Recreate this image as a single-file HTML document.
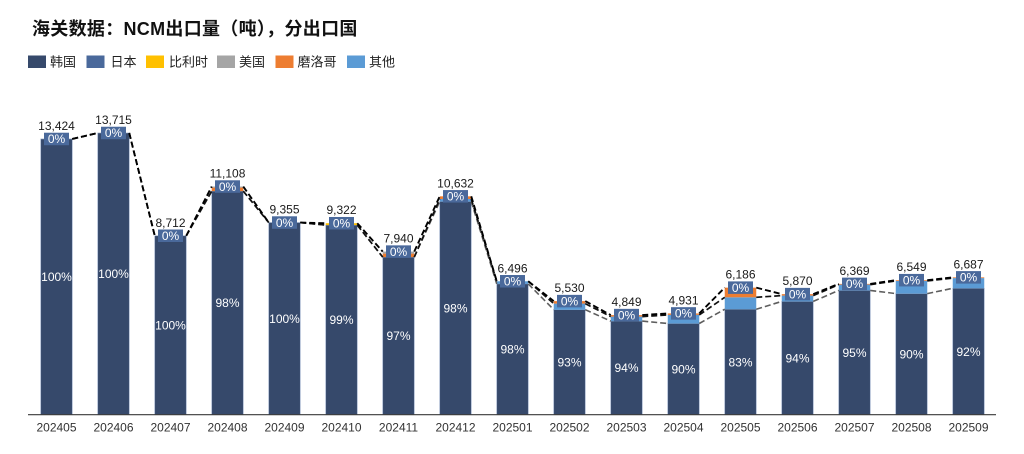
<!DOCTYPE html>
<html>
<head>
<meta charset="utf-8">
<style>
  html,body{margin:0;padding:0;background:#fff;}
  body{width:1024px;height:454px;overflow:hidden;position:relative;}
  svg{position:absolute;left:0;top:0;}
  .t{font-family:"Liberation Sans","Noto Sans CJK SC",sans-serif;}
</style>
</head>
<body>
<svg width="1024" height="454" viewBox="0 0 1024 454" xmlns="http://www.w3.org/2000/svg">
  <!-- Title -->
  <text x="32" y="35" class="t" font-size="18" font-weight="bold" fill="#111" letter-spacing="0.3">海关数据：NCM出口量（吨），分出口国</text>

  <!-- Legend -->
  <g class="t" font-size="13" fill="#222">
    <rect x="28" y="55.5" width="18" height="12.5" fill="#36496b"/>
    <text x="50" y="66.5">韩国</text>
    <rect x="86.5" y="55.5" width="18" height="12.5" fill="#4a699b"/>
    <text x="110.5" y="66.5">日本</text>
    <rect x="146" y="55.5" width="18" height="12.5" fill="#ffc000"/>
    <text x="169" y="66.5">比利时</text>
    <rect x="217" y="55.5" width="18" height="12.5" fill="#a5a5a5"/>
    <text x="239" y="66.5">美国</text>
    <rect x="275.5" y="55.5" width="18" height="12.5" fill="#ed7d31"/>
    <text x="297.5" y="66.5">磨洛哥</text>
    <rect x="347" y="55.5" width="18" height="12.5" fill="#5b9bd5"/>
    <text x="369" y="66.5">其他</text>
  </g>

  <!-- Korea bars -->
  <g fill="#36496b" stroke="#8fa3c2" stroke-width="0.6">
    <rect x="40.75" y="138.97" width="31.5" height="275.73"/>
    <rect x="97.75" y="132.99" width="31.5" height="281.71"/>
    <rect x="154.75" y="235.76" width="31.5" height="178.94"/>
    <rect x="211.75" y="191.1" width="31.5" height="223.6"/>
    <rect x="268.75" y="222.55" width="31.5" height="192.15"/>
    <rect x="325.75" y="225.1" width="31.5" height="189.6"/>
    <rect x="382.75" y="257.1" width="31.5" height="157.6"/>
    <rect x="439.75" y="201.5" width="31.5" height="213.2"/>
    <rect x="496.75" y="283.9" width="31.5" height="130.8"/>
    <rect x="553.75" y="309.7" width="31.5" height="105.0"/>
    <rect x="610.75" y="321.1" width="31.5" height="93.6"/>
    <rect x="667.75" y="323.5" width="31.5" height="91.2"/>
    <rect x="724.75" y="309.24" width="31.5" height="105.46"/>
    <rect x="781.75" y="301.4" width="31.5" height="113.3"/>
    <rect x="838.75" y="290.4" width="31.5" height="124.3"/>
    <rect x="895.75" y="293.6" width="31.5" height="121.1"/>
    <rect x="952.75" y="288.3" width="31.5" height="126.4"/>
  </g>

  <!-- Other (light blue) -->
  <g fill="#5b9bd5">
    <rect x="439.75" y="199.0" width="31.5" height="2.5"/>
    <rect x="496.75" y="281.27" width="31.5" height="2.63"/>
    <rect x="553.75" y="303.6" width="31.5" height="6.1"/>
    <rect x="610.75" y="316.6" width="31.5" height="4.5"/>
    <rect x="667.75" y="314.9" width="31.5" height="8.6"/>
    <rect x="724.75" y="297.3" width="31.5" height="11.94"/>
    <rect x="781.75" y="295.6" width="31.5" height="5.8"/>
    <rect x="838.75" y="284.6" width="31.5" height="5.8"/>
    <rect x="895.75" y="280.9" width="31.5" height="12.7"/>
    <rect x="952.75" y="278.1" width="31.5" height="10.2"/>
  </g>

  <!-- Morocco (orange) -->
  <g fill="#ed7d31">
    <rect x="211.75" y="187.6" width="31.5" height="3.5"/>
    <rect x="382.75" y="253.6" width="31.5" height="3.5"/>
    <rect x="439.75" y="196.32" width="31.5" height="2.68"/>
    <rect x="553.75" y="301.11" width="31.5" height="2.49"/>
    <rect x="610.75" y="315.1" width="31.5" height="1.5"/>
    <rect x="667.75" y="313.42" width="31.5" height="1.48"/>
    <rect x="724.75" y="287.64" width="31.5" height="9.66"/>
    <rect x="781.75" y="294.13" width="31.5" height="1.47"/>
    <rect x="838.75" y="283.88" width="31.5" height="0.72"/>
    <rect x="895.75" y="280.18" width="31.5" height="0.72"/>
    <rect x="952.75" y="277.35" width="31.5" height="0.75"/>
  </g>

  <!-- Gray (US) & Yellow (Belgium) -->
  <rect x="211.75" y="186.54" width="31.5" height="1.06" fill="#a5a5a5"/>
  <rect x="382.75" y="251.61" width="31.5" height="1.99" fill="#a5a5a5"/>
  <rect x="325.75" y="223.23" width="31.5" height="1.87" fill="#ffc000"/>

  <!-- X axis -->
  <line x1="28" y1="414.7" x2="996" y2="414.7" stroke="#3a3a3a" stroke-width="1.2"/>

  <!-- Series lines: Korea top (gray) -->
  <path fill="none" stroke="#5e5e5e" stroke-width="1.6" stroke-dasharray="6 3"
    d="M72.25,138.97L97.75,132.99 M129.25,132.99L154.75,235.76 M186.25,235.76L211.75,191.1 M243.25,191.1L268.75,222.55 M300.25,222.55L325.75,225.1 M357.25,225.1L382.75,257.1 M414.25,257.1L439.75,201.5 M471.25,201.5L496.75,283.9 M528.25,283.9L553.75,309.7 M585.25,309.7L610.75,321.1 M642.25,321.1L667.75,323.5 M699.25,323.5L724.75,309.24 M756.25,309.24L781.75,301.4 M813.25,301.4L838.75,290.4 M870.25,290.4L895.75,293.6 M927.25,293.6L952.75,288.3"/>
  <!-- Series lines: Korea+Other top (black) -->
  <path fill="none" stroke="#111" stroke-width="1.7" stroke-dasharray="6 3"
    d="M72.25,138.97L97.75,132.99 M129.25,132.99L154.75,235.76 M186.25,235.76L211.75,191.1 M243.25,191.1L268.75,222.55 M300.25,222.55L325.75,225.1 M357.25,225.1L382.75,257.1 M414.25,257.1L439.75,199.0 M471.25,199.0L496.75,281.27 M528.25,281.27L553.75,303.6 M585.25,303.6L610.75,316.6 M642.25,316.6L667.75,314.9 M699.25,314.9L724.75,297.3 M756.25,297.3L781.75,295.6 M813.25,295.6L838.75,284.6 M870.25,284.6L895.75,280.9 M927.25,280.9L952.75,278.1"/>
  <!-- Series lines: total top (black) -->
  <path fill="none" stroke="#000" stroke-width="1.9" stroke-dasharray="6 3"
    d="M72.25,138.97L97.75,132.99 M129.25,132.99L154.75,235.76 M186.25,235.76L211.75,186.54 M243.25,186.54L268.75,222.55 M300.25,222.55L325.75,223.23 M357.25,223.23L382.75,251.61 M414.25,251.61L439.75,196.32 M471.25,196.32L496.75,281.27 M528.25,281.27L553.75,301.11 M585.25,301.11L610.75,315.1 M642.25,315.1L667.75,313.42 M699.25,313.42L724.75,287.64 M756.25,287.64L781.75,294.13 M813.25,294.13L838.75,283.88 M870.25,283.88L895.75,280.18 M927.25,280.18L952.75,277.35"/>

  <!-- 0% boxes -->
  <g fill="#4a699b">
    <rect x="44" y="132.72" width="25" height="12.5"/>
    <rect x="101" y="126.74" width="25" height="12.5"/>
    <rect x="158" y="229.51" width="25" height="12.5"/>
    <rect x="215" y="180.29" width="25" height="12.5"/>
    <rect x="272" y="216.3" width="25" height="12.5"/>
    <rect x="329" y="216.98" width="25" height="12.5"/>
    <rect x="386" y="245.36" width="25" height="12.5"/>
    <rect x="443" y="190.07" width="25" height="12.5"/>
    <rect x="500" y="275.02" width="25" height="12.5"/>
    <rect x="557" y="294.86" width="25" height="12.5"/>
    <rect x="614" y="308.85" width="25" height="12.5"/>
    <rect x="671" y="307.17" width="25" height="12.5"/>
    <rect x="728" y="281.39" width="25" height="12.5"/>
    <rect x="785" y="287.88" width="25" height="12.5"/>
    <rect x="842" y="277.63" width="25" height="12.5"/>
    <rect x="899" y="273.93" width="25" height="12.5"/>
    <rect x="956" y="271.1" width="25" height="12.5"/>
  </g>
  <g class="t" font-size="12" fill="#fff" text-anchor="middle">
    <text x="56.5" y="143.2">0%</text>
    <text x="113.5" y="137.2">0%</text>
    <text x="170.5" y="240.0">0%</text>
    <text x="227.5" y="190.8">0%</text>
    <text x="284.5" y="226.8">0%</text>
    <text x="341.5" y="227.5">0%</text>
    <text x="398.5" y="255.9">0%</text>
    <text x="455.5" y="200.6">0%</text>
    <text x="512.5" y="285.5">0%</text>
    <text x="569.5" y="305.4">0%</text>
    <text x="626.5" y="319.3">0%</text>
    <text x="683.5" y="317.7">0%</text>
    <text x="740.5" y="291.9">0%</text>
    <text x="797.5" y="298.4">0%</text>
    <text x="854.5" y="288.1">0%</text>
    <text x="911.5" y="284.4">0%</text>
    <text x="968.5" y="281.6">0%</text>
  </g>

  <!-- Total labels -->
  <g class="t" font-size="12" fill="#1a1a1a" text-anchor="middle">
    <text x="56.5" y="130.0">13,424</text>
    <text x="113.5" y="124.0">13,715</text>
    <text x="170.5" y="226.8">8,712</text>
    <text x="227.5" y="177.5">11,108</text>
    <text x="284.5" y="213.6">9,355</text>
    <text x="341.5" y="214.2">9,322</text>
    <text x="398.5" y="242.6">7,940</text>
    <text x="455.5" y="187.3">10,632</text>
    <text x="512.5" y="272.3">6,496</text>
    <text x="569.5" y="292.1">5,530</text>
    <text x="626.5" y="306.1">4,849</text>
    <text x="683.5" y="304.4">4,931</text>
    <text x="740.5" y="278.6">6,186</text>
    <text x="797.5" y="285.1">5,870</text>
    <text x="854.5" y="274.9">6,369</text>
    <text x="911.5" y="271.2">6,549</text>
    <text x="968.5" y="268.4">6,687</text>
  </g>

  <!-- Korea percentage labels -->
  <g class="t" font-size="12" fill="#fff" text-anchor="middle">
    <text x="56.5" y="281.1">100%</text>
    <text x="113.5" y="278.1">100%</text>
    <text x="170.5" y="329.5">100%</text>
    <text x="227.5" y="307.2">98%</text>
    <text x="284.5" y="322.9">100%</text>
    <text x="341.5" y="324.2">99%</text>
    <text x="398.5" y="340.2">97%</text>
    <text x="455.5" y="312.4">98%</text>
    <text x="512.5" y="353.6">98%</text>
    <text x="569.5" y="366.5">93%</text>
    <text x="626.5" y="372.2">94%</text>
    <text x="683.5" y="373.4">90%</text>
    <text x="740.5" y="366.3">83%</text>
    <text x="797.5" y="362.4">94%</text>
    <text x="854.5" y="356.9">95%</text>
    <text x="911.5" y="358.5">90%</text>
    <text x="968.5" y="355.8">92%</text>
  </g>

  <!-- X axis labels -->
  <g class="t" font-size="12" fill="#333" text-anchor="middle">
    <text x="56.5" y="431.5">202405</text>
    <text x="113.5" y="431.5">202406</text>
    <text x="170.5" y="431.5">202407</text>
    <text x="227.5" y="431.5">202408</text>
    <text x="284.5" y="431.5">202409</text>
    <text x="341.5" y="431.5">202410</text>
    <text x="398.5" y="431.5">202411</text>
    <text x="455.5" y="431.5">202412</text>
    <text x="512.5" y="431.5">202501</text>
    <text x="569.5" y="431.5">202502</text>
    <text x="626.5" y="431.5">202503</text>
    <text x="683.5" y="431.5">202504</text>
    <text x="740.5" y="431.5">202505</text>
    <text x="797.5" y="431.5">202506</text>
    <text x="854.5" y="431.5">202507</text>
    <text x="911.5" y="431.5">202508</text>
    <text x="968.5" y="431.5">202509</text>
  </g>
</svg>
</body>
</html>
